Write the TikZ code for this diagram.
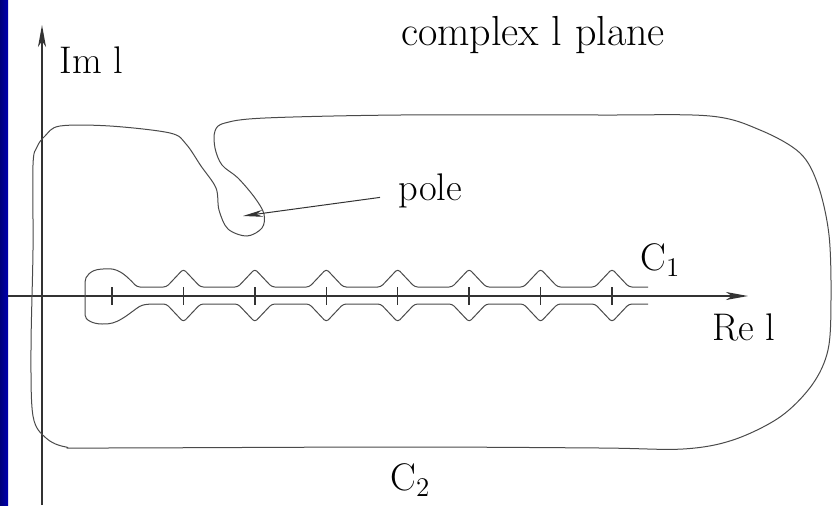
\documentclass[tikz,border=0pt]{standalone}
\usetikzlibrary{arrows.meta, positioning}
\definecolor{slideBlue}{HTML}{0000B0}
\definecolor{axisGray}{HTML}{333333}
\definecolor{pathGray}{HTML}{4A4A4A}

\begin{document}
\begin{tikzpicture}[x=0.5pt, y=-0.5pt,
    every node/.style={font=\fontsize{19.25}{23}\selectfont, inner sep=0pt},
    axis/.style={draw=axisGray, line width=0.7pt},
    contour/.style={draw=pathGray, line width=0.5pt, line join=round},
    tip/.style={-{Stealth[length=11pt, width=4pt, inset=3pt]}}]
  \useasboundingbox (0,0) rectangle (832,505);
  \shade[left color=slideBlue!70!black, right color=slideBlue] (0,0) rectangle (8,505);

  % axes
  \coordinate (imlow) at (42,505);
  \coordinate (imtop) at (42,25);
  \coordinate (releft) at (8,296);
  \coordinate (retip) at (748,296);
  \draw[axis, tip] (imlow) -- (imtop);
  \draw[axis, tip] (releft) -- (retip);
  \foreach \k in {0,...,7}
    \draw[axis] ({112+71.43*\k},287) -- ({112+71.43*\k},305);

  % labels
  \node[anchor=base, font=\fontsize{21}{25}\selectfont] (title) at (533,45) {complex l plane};
  \node[anchor=base west] (imlbl) at (59,73) {Im l};
  \node[anchor=base west] (relbl) at (712,340) {Re l};
  \node[anchor=base west] (cone) at (640,270) {C\textsubscript{1}};
  \node[anchor=base west] (ctwo) at (390,490) {C\textsubscript{2}};
  \node[anchor=base west] (pole) at (398,200) {pole};

  % contour C1 round the cut
  \draw[contour, rounded corners=1.5pt] (648,287)
    foreach \k in {7,...,1} { -- ({112+71.43*\k+17},287) -- ({112+71.43*\k},269) -- ({112+71.43*\k-17},287) }
    -- (137,287) .. controls (124,273) and (117,268) .. (103,269)
    .. controls (91,270) and (85,276) .. (85,285) -- (85,312)
    .. controls (85,320) and (93,324) .. (105,324)
    .. controls (120,323) and (132,311) .. (142,305) -- (150,304)
    foreach \k in {1,...,7} { -- ({112+71.43*\k-17},304) -- ({112+71.43*\k},322) -- ({112+71.43*\k+17},304) }
    -- (648,304);

  % contour C2
  \draw[contour] plot[smooth cycle, tension=0.55] coordinates {
    (33,250) (33,165) (37,147) (45,136) (60,126) (110,126) (170,133) (186,144)
    (201,166) (216,188) (219,210) (228,229) (247,236) (262,228) (264,214)
    (255,198) (238,178) (222,165) (215,148) (215,131) (225,123) (265,118)
    (400,115) (600,115) (710,116) (760,130) (800,153) (818,185) (829,235)
    (831,300) (828,350) (812,385) (780,417) (733,440) (683,449) (600,448)
    (400,447) (100,448) (66,447) (46,438) (33,416) (31,350)};

  % pole arrow
  \coordinate (polept) at (243,216);
  \draw[axis, line width=0.5pt, -{Stealth[length=10pt, width=3.5pt]}]
    ([xshift=-9pt, yshift=-3.5pt]pole.west) -- (polept);
\end{tikzpicture}
\end{document}
